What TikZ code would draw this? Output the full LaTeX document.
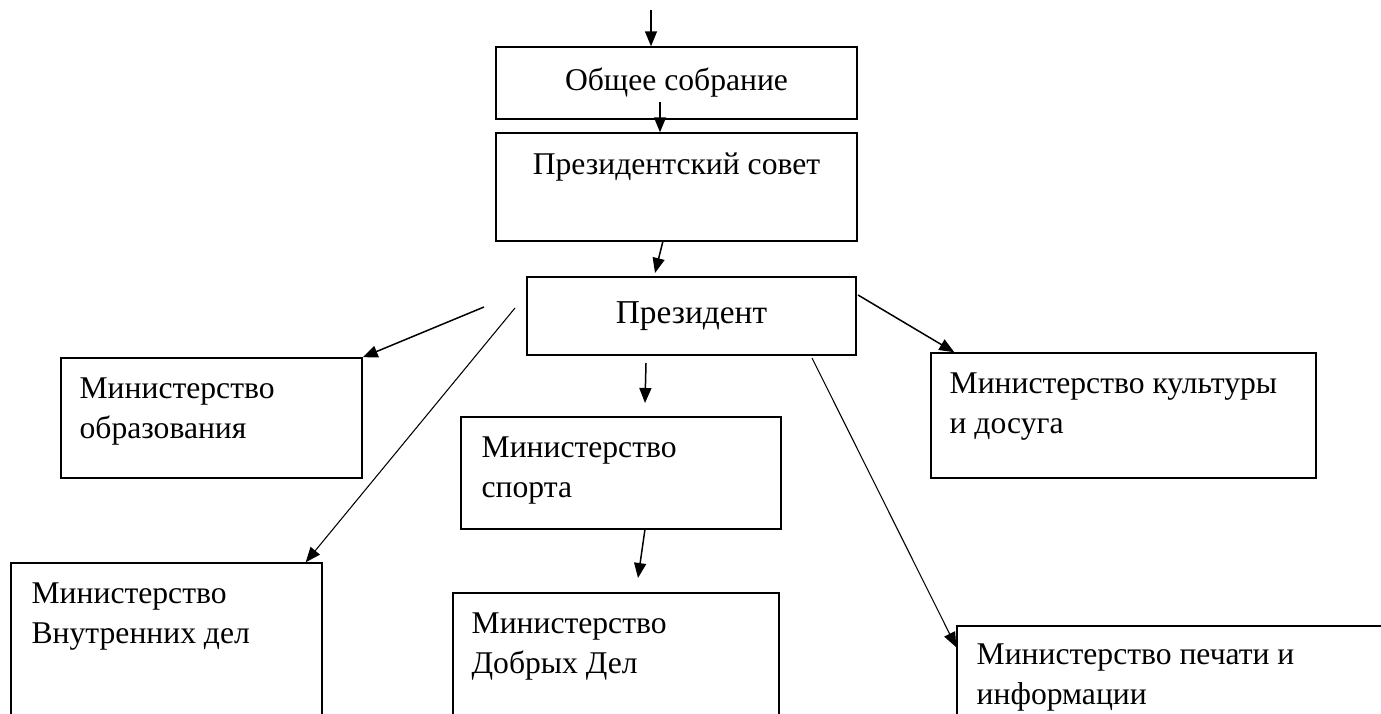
\documentclass[tikz,border=0pt]{standalone}
\usepackage{fontspec}
\setmainfont{Liberation Serif}
\usetikzlibrary{arrows.meta,positioning}

\tikzset{
  box/.style={draw, line width=0.85pt, inner sep=0pt},
  txt/.style={inner sep=0pt, align=left, font=\fontsize{18}{22.7}\selectfont},
  arr/.style={-{Triangle[length=0.3cm,width=0.24cm]}, line width=0.85pt},
  thinarr/.style={arr, line width=0.6pt}
}

\begin{document}
\begin{tikzpicture}[x=0.02cm, y=-0.02cm]

    \clip (0,0) rectangle (1381,713);

    % boxes
    \node[box, minimum width=7.22cm, minimum height=1.44cm, txt] (obshch) at (676.5,83) {Общее собрание};
    \node[box, minimum width=7.22cm, minimum height=2.16cm] (sovet) at (676.5,187) {};
    \node[box, minimum width=6.58cm, minimum height=1.56cm, txt, font=\fontsize{19}{23}\selectfont] (prez) at (691.5,316) {Президент};
    \node[box, minimum width=6.02cm, minimum height=2.4cm] (obraz) at (211.5,418) {};
    \node[box, minimum width=6.4cm, minimum height=2.24cm] (sport) at (621,473) {};
    \node[box, minimum width=7.7cm, minimum height=2.5cm] (kult) at (1123.5,415.5) {};
    \node[box, minimum width=6.22cm, minimum height=4.74cm] (vnutr) at (166.5,681.5) {};
    \node[box, minimum width=6.52cm, minimum height=4.14cm] (dobr) at (616,696.5) {};
    \node[box, minimum width=10.86cm, minimum height=3.48cm] (pechat) at (1228.5,713) {};

    % texts
    \node[txt, anchor=north] (sovettxt) at ([yshift=-0.4cm]sovet.north) {Президентский совет};
    \node[txt, anchor=north west] (obraztxt) at ([xshift=0.38cm,yshift=-0.4cm]obraz.north west) {Министерство\\образования};
    \node[txt, anchor=north west] (sporttxt) at ([xshift=0.42cm,yshift=-0.4cm]sport.north west) {Министерство\\спорта};
    \node[txt, anchor=north west] (kulttxt) at ([xshift=0.38cm,yshift=-0.4cm]kult.north west) {Министерство культуры\\и досуга};
    \node[txt, anchor=north west] (vnutrtxt) at ([xshift=0.42cm,yshift=-0.4cm]vnutr.north west) {Министерство\\Внутренних дел};
    \node[txt, anchor=north west] (dobrtxt) at ([xshift=0.38cm,yshift=-0.4cm]dobr.north west) {Министерство\\Добрых Дел};
    \node[txt, anchor=north west] (pechattxt) at ([xshift=0.4cm,yshift=-0.36cm]pechat.north west) {Министерство печати и\\информации};

    % arrows
    \coordinate (top) at (651,10);
    \coordinate (s1) at (660,102);
    \coordinate (s2) at (663,241);
    \coordinate (e2) at (655,273);
    \coordinate (s3) at (646,363);
    \coordinate (e3) at (645,403);
    \coordinate (s4) at (645,529);
    \coordinate (e4) at (638,578);
    \coordinate (s5) at (484,307);
    \coordinate (s6) at (515,308);
    \coordinate (s7) at (858,295);
    \coordinate (s8) at (812,358);

    \draw[arr] (top) -- (top |- obshch.north);
    \draw[arr] (s1) -- (s1 |- sovet.north);
    \draw[arr] (s2) -- (e2);
    \draw[arr] (s3) -- (e3);
    \draw[arr] (s4) -- (e4);
    \draw[arr] (s5) -- (obraz.north east);
    \draw[thinarr] (s6) -- ([xshift=-0.34cm]vnutr.north east);
    \draw[arr] (s7) -- ([xshift=0.48cm]kult.north west);
    \draw[thinarr] (s8) -- ([yshift=-0.44cm]pechat.north west);

\end{tikzpicture}
\end{document}
